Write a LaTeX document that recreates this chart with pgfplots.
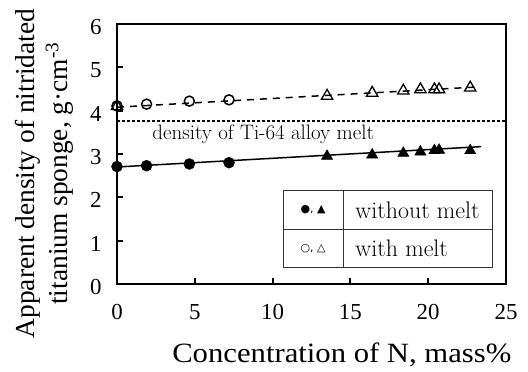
\documentclass[border=0pt]{standalone}
\usepackage{fontspec}
\usepackage{pgfplots}
\pgfplotsset{compat=1.18}
\newfontfamily\tnr{Liberation Serif}
\newfontfamily\tnrx[FakeStretch=1.1]{Liberation Serif}
\newfontfamily\dejavu{DejaVu Sans}
\begin{document}
\begin{tikzpicture}
\useasboundingbox (-117bp,-88bp) rectangle (411bp,284bp);
\begin{axis}[
 scale only axis, width=389bp, height=260bp,
 xmin=0, xmax=25, ymin=0, ymax=6,
 xtick={0,5,...,25}, ytick={0,1,...,6},
 tick align=inside, xtick pos=bottom, ytick pos=left,
 major tick length=6bp,
 axis line style={line width=2.2bp},
 every tick/.style={line width=2bp, black},
 /pgf/number format/assume math mode=true,
 tick label style={font=\tnr\fontsize{23}{27}\selectfont},
 yticklabel style={xshift=-12bp, yshift=-3bp},
 xticklabel style={anchor=base, yshift=-35bp},
 xlabel={Concentration of N, mass\%},
 ylabel={Apparent density of nitridated\\[1bp]titanium sponge, g·cm\textsuperscript{-3}},
 xlabel style={font=\tnrx\fontsize{28}{32}\selectfont, at={(axis description cs:0.578,-0.30)}, anchor=base},
 ylabel style={font=\tnr\fontsize{27.5}{32}\selectfont, align=center, at={(axis description cs:-0.187,0.425)}, anchor=center},
]
% fitted lines
\addplot[black, line width=1.5bp] coordinates {(0,2.70) (23.4,3.17)};
\addplot[black, line width=1.5bp, dash pattern=on 7bp off 6bp] coordinates {(0,4.08) (23.3,4.55)};
\addplot[black, line width=1.3bp, dash pattern=on 3bp off 2bp] coordinates {(0,3.76) (25,3.76)};
% without melt
\addplot[only marks, mark=*, mark size=5.5bp, black] coordinates {(0,2.71) (1.9,2.73) (4.65,2.77) (7.2,2.80)};
\addplot[only marks, mark=triangle*, mark size=6.5bp, black] coordinates {(13.5,2.95) (16.4,2.98) (18.4,3.02) (19.5,3.05) (20.4,3.08) (20.7,3.09) (22.7,3.08)};
% with melt
\addplot[only marks, mark=o, mark size=5bp, black, mark options={line width=1.5bp, fill=white}] coordinates {(0,4.11) (1.9,4.15) (4.65,4.22) (7.2,4.25)};
\addplot[only marks, mark=triangle, mark size=6.5bp, black, mark options={line width=1.3bp}] coordinates {(0,4.10) (13.5,4.34) (16.4,4.41) (18.4,4.46) (19.5,4.49) (20.4,4.49) (20.7,4.49) (22.7,4.53)};
\node[anchor=west, font=\fontsize{21}{24}\selectfont] at (axis cs:2.05,3.45) {density of Ti-64 alloy melt};
% legend table
\draw[line width=0.8bp, black!80] (axis cs:10.7,0.376) rectangle (axis cs:24.1,2.17);
\draw[line width=0.8bp, black!80] (axis cs:14.55,0.376) -- (axis cs:14.55,2.17);
\draw[line width=0.8bp, black!80] (axis cs:10.7,1.26) -- (axis cs:24.1,1.26);
\node[font=\dejavu\fontsize{11}{13}\selectfont] at (axis cs:12.6,1.71) {●, ▲};
\node[font=\dejavu\fontsize{11}{13}\selectfont] at (axis cs:12.6,0.82) {○, △};
\node[anchor=west, font=\fontsize{24}{28}\selectfont] at (axis cs:15.1,1.71) {without melt};
\node[anchor=west, font=\fontsize{24}{28}\selectfont] at (axis cs:15.1,0.82) {with melt};
\end{axis}
\end{tikzpicture}
\end{document}
